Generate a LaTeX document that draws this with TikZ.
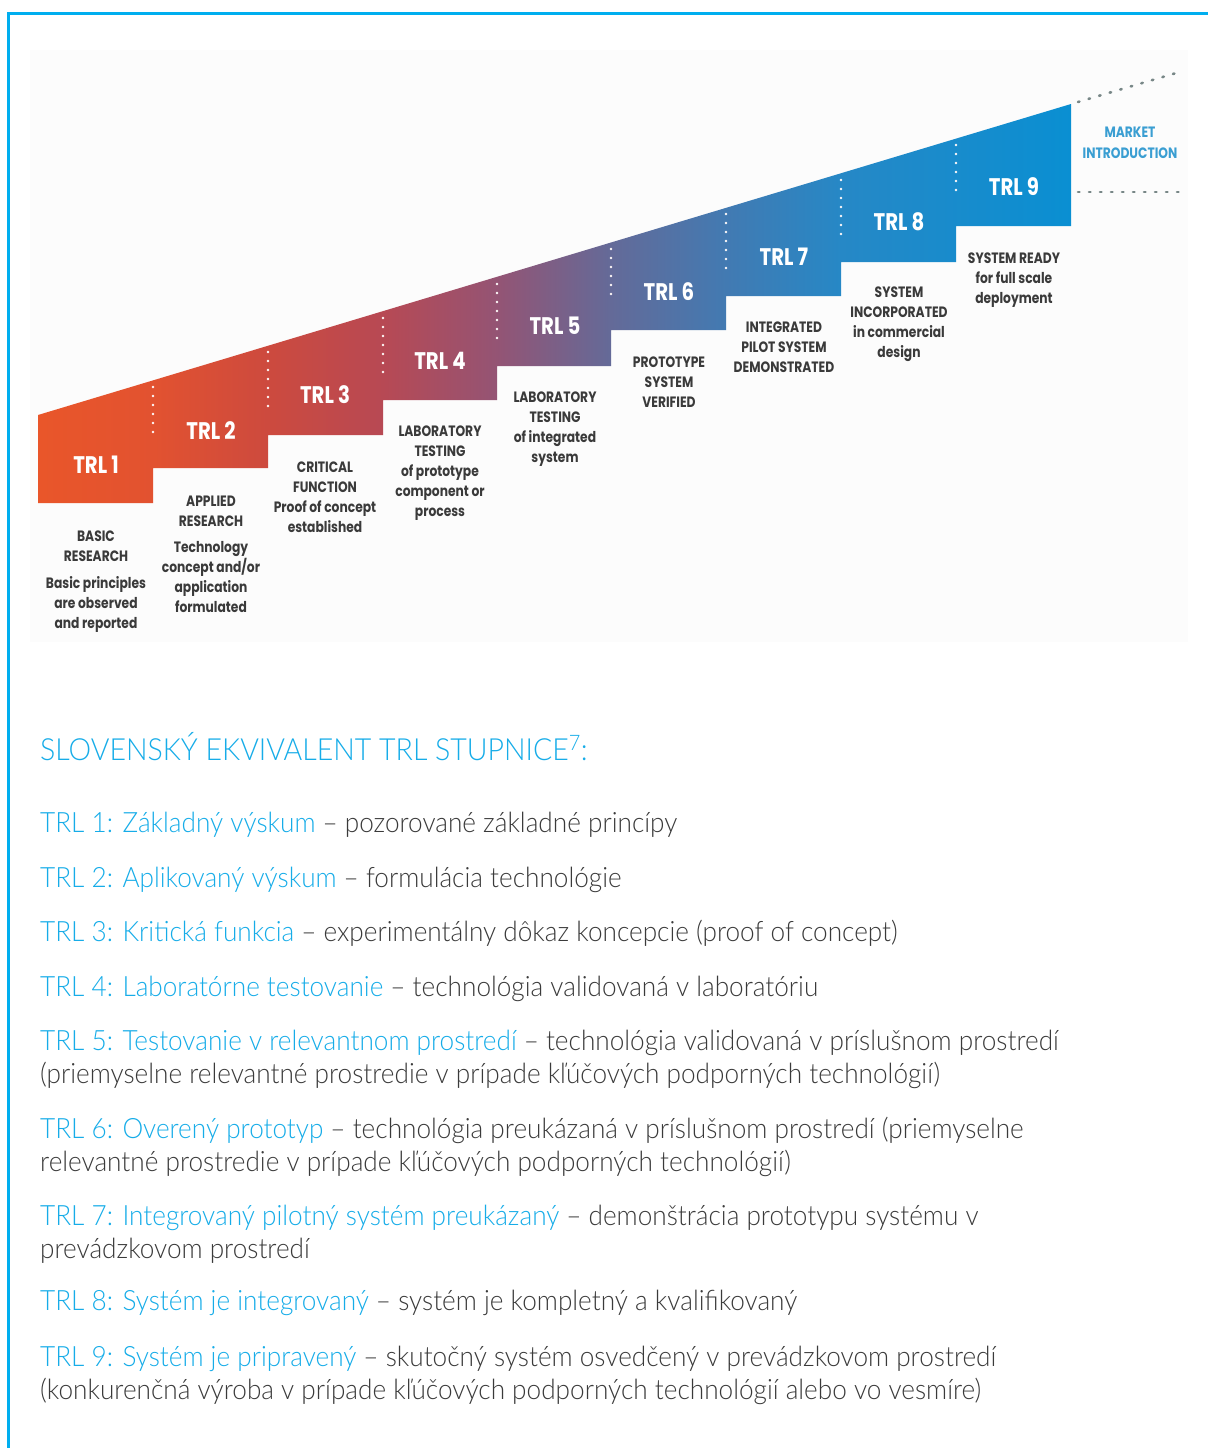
\documentclass[tikz,border=0pt]{standalone}
\usepackage{fontspec}
\setmainfont{Lato}[UprightFont=* Light, BoldFont=* Regular, FakeStretch=0.935]
\newfontfamily\stepfont{Poppins}[FakeStretch=0.82]

\definecolor{framecolor}{RGB}{0,174,239}
\definecolor{headblue}{RGB}{22,172,232}
\definecolor{bodygray}{RGB}{58,58,58}
\definecolor{stepgray}{RGB}{58,58,58}
\definecolor{panelgray}{RGB}{252,252,252}
\definecolor{marketblue}{RGB}{58,158,210}
\definecolor{dotgray}{RGB}{120,135,135}

% colour ramp of the staircase, TRL 1 (left) to TRL 9 (right)
\definecolor{rampA}{RGB}{233,86,42}
\definecolor{rampB}{RGB}{226,82,48}
\definecolor{rampC}{RGB}{205,74,62}
\definecolor{rampD}{RGB}{183,73,84}
\definecolor{rampE}{RGB}{148,84,116}
\definecolor{rampF}{RGB}{100,106,152}
\definecolor{rampG}{RGB}{66,122,178}
\definecolor{rampH}{RGB}{38,136,198}
\definecolor{rampI}{RGB}{10,143,210}
\pgfdeclarehorizontalshading{trlramp}{100bp}{color(0bp)=(rampA); color(25bp)=(rampA);
  color(30.6bp)=(rampB); color(36.1bp)=(rampC); color(41.7bp)=(rampD);
  color(47.2bp)=(rampE); color(52.7bp)=(rampF); color(58.3bp)=(rampG);
  color(63.9bp)=(rampH); color(75bp)=(rampI); color(100bp)=(rampI)}

\newcommand{\trlhead}[1]{{\color{headblue}#1}}

\begin{document}
\begin{tikzpicture}[
    x=1pt, y=-1pt,
    trlLabel/.style={text=white, font=\stepfont\bfseries\fontsize{24}{24}\selectfont},
    stepText/.style={anchor=north, inner sep=0pt, align=center, text=stepgray,
        font=\stepfont\bfseries\fontsize{15}{20}\selectfont},
    marketText/.style={align=center, inner sep=0pt, text=marketblue,
        font=\stepfont\bfseries\fontsize{15}{21}\selectfont},
    bodyLine/.style={anchor=base west, inner sep=0pt, text=bodygray,
        font=\fontsize{28}{33}\selectfont},
    stepDots/.style={white!90!pink, line width=2.8pt, line cap=round, dash pattern=on 0pt off 9pt},
    marketDots/.style={dotgray, line width=2.6pt, line cap=round, dash pattern=on 1.5pt off 9.5pt}
    ]
    \useasboundingbox (0,0) rectangle (1208,1448);

    % frame and light panel behind the staircase
    \fill[panelgray] (30,50) rectangle (1188,642);
    \draw[framecolor, line width=2.7pt] (8.7,1448) -- (8.7,13.5) -- (1208,13.5);

    % staircase
    \shade[shading=trlramp] (38,415) -- (1071,104) -- (1071,226) -- (956,226) -- (956,262)
        -- (841,262) -- (841,296) -- (726,296) -- (726,330) -- (611,330) -- (611,366)
        -- (497,366) -- (497,400) -- (383,400) -- (383,435) -- (268,435) -- (268,468)
        -- (153,468) -- (153,503) -- (38,503) -- cycle;

    % dotted step borders
    \draw[stepDots] (153,387) -- (153,440);
    \draw[stepDots] (268,352) -- (268,407);
    \draw[stepDots] (383,318) -- (383,372);
    \draw[stepDots] (497,284) -- (497,338);
    \draw[stepDots] (611,249) -- (611,302);
    \draw[stepDots] (726,214) -- (726,268);
    \draw[stepDots] (841,180) -- (841,234);
    \draw[stepDots] (956,145) -- (956,198);

    % market introduction
    \draw[marketDots] (1078,102) -- (1183,71);
    \draw[marketDots] (1078,192) -- (1188,192);
    \node[marketText] (market) at (1130,143) {MARKET\\INTRODUCTION};

    % step names
    \node[trlLabel] (trl1) at (96,465) {TRL 1};
    \node[trlLabel] (trl2) at (211,431) {TRL 2};
    \node[trlLabel] (trl3) at (325,395) {TRL 3};
    \node[trlLabel] (trl4) at (440,361) {TRL 4};
    \node[trlLabel] (trl5) at (555,326) {TRL 5};
    \node[trlLabel] (trl6) at (669,292) {TRL 6};
    \node[trlLabel] (trl7) at (784,257) {TRL 7};
    \node[trlLabel] (trl8) at (899,222) {TRL 8};
    \node[trlLabel] (trl9) at (1014,187) {TRL 9};

    % step descriptions under each step
    \node[stepText] (desc1) at (96,531) {BASIC\\RESEARCH\\[7pt]Basic principles\\are observed\\and reported};
    \node[stepText] (desc2) at (211,496) {APPLIED\\RESEARCH\\[6pt]Technology\\concept and/or\\application\\formulated};
    \node[stepText] (desc3) at (325,462) {CRITICAL\\FUNCTION\\Proof of concept\\established};
    \node[stepText] (desc4) at (440,426) {LABORATORY\\TESTING\\of prototype\\component or\\process};
    \node[stepText] (desc5) at (555,392) {LABORATORY\\TESTING\\of integrated\\system};
    \node[stepText] (desc6) at (669,357) {PROTOTYPE\\SYSTEM\\VERIFIED};
    \node[stepText] (desc7) at (784,322) {INTEGRATED\\PILOT SYSTEM\\DEMONSTRATED};
    \node[stepText] (desc8) at (899,287) {SYSTEM\\INCORPORATED\\in commercial\\design};
    \node[stepText] (desc9) at (1014,253) {SYSTEM READY\\for full scale\\deployment};

    % Slovak equivalent of the scale
    \node[bodyLine, text=headblue, font=\fontsize{30.5}{33}\selectfont] (title) at (40,760) {SLOVENSKÝ EKVIVALENT TRL STUPNICE\textsuperscript{7}:};

    \node[bodyLine] (l1) at (40,832) {\trlhead{TRL 1: Základný výskum} – pozorované základné princípy};
    \node[bodyLine] (l2) at (40,887) {\trlhead{TRL 2: Aplikovaný výskum} – formulácia technológie};
    \node[bodyLine] (l3) at (40,941) {\trlhead{TRL 3: Kritická funkcia} – experimentálny dôkaz koncepcie (proof of concept)};
    \node[bodyLine] (l4) at (40,996) {\trlhead{TRL 4: Laboratórne testovanie} – technológia validovaná v laboratóriu};
    \node[bodyLine] (l5a) at (40,1050) {\trlhead{TRL 5: Testovanie v relevantnom prostredí} – technológia validovaná v príslušnom prostredí};
    \node[bodyLine, yshift=-33pt] (l5b) at (l5a.base west) {(priemyselne relevantné prostredie v prípade kľúčových podporných technológií)};
    \node[bodyLine] (l6a) at (40,1138) {\trlhead{TRL 6: Overený prototyp} – technológia preukázaná v príslušnom prostredí (priemyselne};
    \node[bodyLine, yshift=-33pt] (l6b) at (l6a.base west) {relevantné prostredie v prípade kľúčových podporných technológií)};
    \node[bodyLine] (l7a) at (40,1225) {\trlhead{TRL 7: Integrovaný pilotný systém preukázaný} – demonštrácia prototypu systému v};
    \node[bodyLine, yshift=-33pt] (l7b) at (l7a.base west) {prevádzkovom prostredí};
    \node[bodyLine] (l8) at (40,1310) {\trlhead{TRL 8: Systém je integrovaný} – systém je kompletný a kvalifikovaný};
    \node[bodyLine] (l9a) at (40,1366) {\trlhead{TRL 9: Systém je pripravený} – skutočný systém osvedčený v prevádzkovom prostredí};
    \node[bodyLine, yshift=-33pt] (l9b) at (l9a.base west) {(konkurenčná výroba v prípade kľúčových podporných technológií alebo vo vesmíre)};
\end{tikzpicture}
\end{document}
